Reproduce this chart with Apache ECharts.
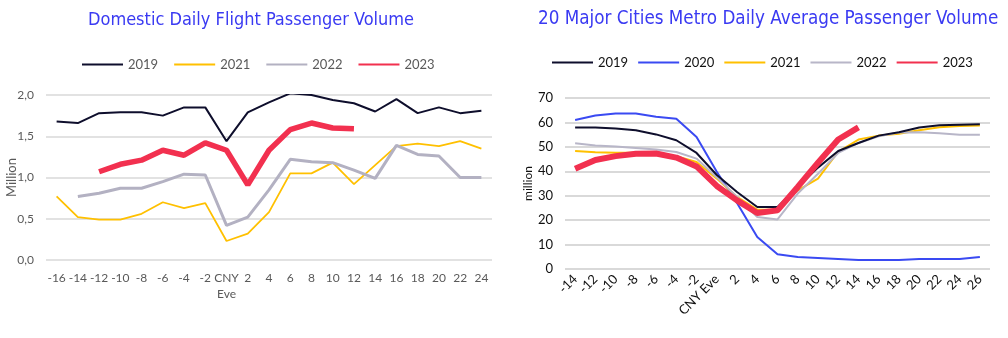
<!DOCTYPE html>
<html><head><meta charset="utf-8">
<script src="https://cdn.jsdelivr.net/npm/echarts@6/dist/echarts.min.js"></script>
<style>html,body{margin:0;padding:0;background:#fff}#c{width:1008px;height:338px}</style>
</head><body><div id="c"></div>
<script>
// Left chart: Domestic Daily Flight Passenger Volume (million)
const flightDays = ['-16','-14','-12','-10','-8','-6','-4','-2','CNY\nEve','2','4','6','8','10','12','14','16','18','20','22','24'];
const flight2019 = [1.68,1.66,1.78,1.79,1.79,1.75,1.85,1.85,1.44,1.79,1.91,2.02,2.00,1.94,1.90,1.80,1.95,1.78,1.85,1.78,1.81];
const flight2021 = [0.77,0.52,0.49,0.49,0.56,0.70,0.63,0.69,0.23,0.32,0.58,1.05,1.05,1.18,0.92,1.15,1.38,1.41,1.38,1.44,1.35];
const flight2022 = [null,0.77,0.81,0.87,0.87,0.95,1.04,1.03,0.42,0.52,0.85,1.22,1.19,1.18,1.09,0.99,1.39,1.28,1.26,1.00,1.00];
const flight2023 = [null,null,1.07,1.16,1.21,1.33,1.27,1.42,1.33,0.91,1.33,1.58,1.66,1.60,1.59,null,null,null,null,null,null];

// Right chart: 20 Major Cities Metro Daily Average Passenger Volume (million)
const metroDays = ['-14','-12','-10','-8','-6','-4','-2','CNY Eve','2','4','6','8','10','12','14','16','18','20','22','24','26'];
const metro2019 = [57.9,57.9,57.5,56.8,55.1,52.7,47.5,38.5,31.5,25.4,25.4,33.6,41.5,48.3,51.6,54.6,56.0,57.9,58.8,59.1,59.3];
const metro2020 = [61.0,62.8,63.7,63.7,62.3,61.5,54.0,39.8,27.0,13.1,6.0,4.9,4.5,4.1,3.7,3.7,3.7,4.1,4.1,4.1,4.9];
const metro2021 = [48.3,47.8,47.6,47.6,47.3,46.2,43.8,37.0,29.5,24.3,24.3,32.2,37.0,48.0,53.0,54.6,55.4,56.8,58.0,58.5,58.7];
const metro2022 = [51.5,50.6,50.1,49.5,48.9,47.9,45.2,37.5,29.5,21.3,20.3,30.9,39.0,47.5,51.6,54.3,55.9,56.0,55.6,55.0,55.0];
const metro2023 = [41.0,44.6,46.2,47.2,47.3,45.6,42.0,34.0,28.1,22.9,24.0,33.6,43.5,53.0,58.0,null,null,null,null,null,null];

const flightTicks = {min:0, max:2, interval:0.5};
const metroTicks = {min:0, max:70, interval:10};

const chart = echarts.init(document.getElementById('c'));
const titleFamily = '"DejaVu Sans Condensed", "Liberation Sans"';
const leftFont = 'Lato';
const rightFont = 'Lato';
function ln(name, data, color, width, xi, z){
  return {name, type:'line', data, xAxisIndex:xi, yAxisIndex:xi, symbol:'none', connectNulls:false,
    lineStyle:{color, width}, itemStyle:{color}, z:z||2, legendHoverLink:false, emphasis:{disabled:true}};
}
chart.setOption({
  animation:false,
  title:[
    {text:'Domestic Daily Flight Passenger Volume', left:83, top:6,
     textStyle:{color:'#3a3af2', fontSize:18, fontFamily:titleFamily, fontWeight:'normal'}},
    {text:'20 Major Cities Metro Daily Average Passenger Volume', left:533, top:5,
     textStyle:{color:'#3a3af2', fontSize:18.7, fontFamily:titleFamily, fontWeight:'normal'}}
  ],
  legend:[
    {left:76, top:53, itemWidth:41, itemHeight:14, itemGap:15, data:['2019','2021','2022','2023'],
     itemStyle:{opacity:0},
     textStyle:{color:'#595959', fontSize:13, fontFamily:leftFont}, selectedMode:false},
    {left:546, top:51, width:455, itemWidth:41, itemHeight:14, itemGap:9,
     data:[{name:'2019 '},{name:'2020 '},{name:'2021 '},{name:'2022 '},{name:'2023 '}],
     formatter:n=>n.trim(), itemStyle:{opacity:0},
     textStyle:{color:'#111', fontSize:13, fontFamily:rightFont}, selectedMode:false}
  ],
  grid:[
    {left:46, right:516, top:95, bottom:78},
    {left:565, right:18, top:98, bottom:69}
  ],
  xAxis:[
    {type:'category', gridIndex:0, data:flightDays, boundaryGap:true,
     axisLine:{show:false}, axisTick:{show:false},
     axisLabel:{color:'#595959', fontSize:12, fontFamily:leftFont, margin:10, interval:0, lineHeight:16}},
    {type:'category', gridIndex:1, data:metroDays, boundaryGap:true,
     axisLine:{show:false}, axisTick:{show:false},
     axisLabel:{color:'#111', fontSize:13, fontFamily:rightFont, margin:8, interval:0, rotate:45}}
  ],
  yAxis:[
    {type:'value', gridIndex:0, min:flightTicks.min, max:flightTicks.max, interval:flightTicks.interval,
     name:'Million', nameLocation:'middle', nameGap:28, nameMoveOverlap:false,
     nameTextStyle:{color:'#595959', fontSize:13, fontFamily:leftFont},
     axisLine:{show:false}, axisTick:{show:false},
     axisLabel:{color:'#595959', fontSize:12, fontFamily:leftFont, margin:12,
       formatter:v=>v.toFixed(1).replace('.',',')},
     splitLine:{lineStyle:{color:'#d9d9d9', width:1.5}}},
    {type:'value', gridIndex:1, min:metroTicks.min, max:metroTicks.max, interval:metroTicks.interval,
     name:'million', nameLocation:'middle', nameGap:30,
     nameTextStyle:{color:'#111', fontSize:12, fontFamily:rightFont},
     axisLine:{show:false}, axisTick:{show:false},
     axisLabel:{color:'#111', fontSize:13, fontFamily:rightFont, margin:12},
     splitLine:{lineStyle:{color:'#d9d9d9', width:2}}}
  ],
  series:[
    ln('2019', flight2019, '#0e0e2c', 2, 0, 3),
    ln('2021', flight2021, '#ffc000', 1.8, 0, 2),
    ln('2022', flight2022, '#b3b1c2', 3, 0, 2),
    ln('2023', flight2023, '#f2304f', 5.5, 0, 4),
    ln('2019 ', metro2019, '#0e0e2c', 2, 1, 3),
    ln('2020 ', metro2020, '#3a4af2', 2, 1, 2),
    ln('2021 ', metro2021, '#ffc000', 2, 1, 2),
    ln('2022 ', metro2022, '#b8b6c8', 2, 1, 2),
    ln('2023 ', metro2023, '#f2304f', 6, 1, 4)
  ]
});
</script></body></html>
